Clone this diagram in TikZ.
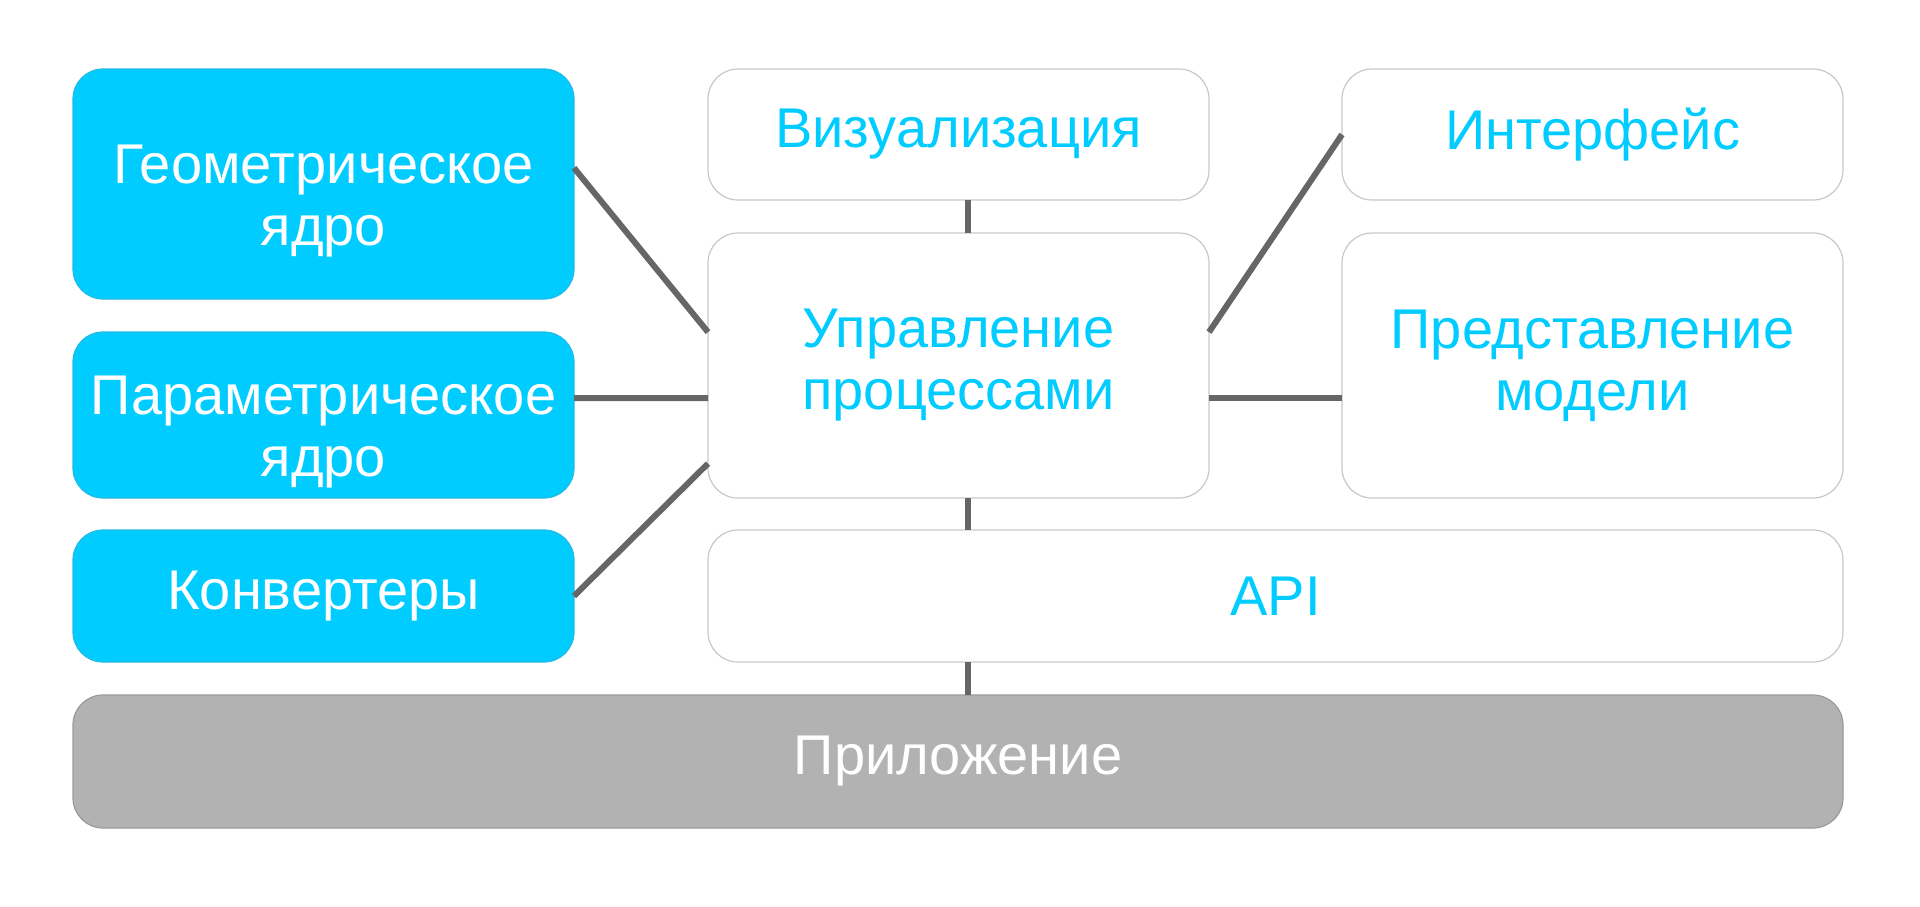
\documentclass[tikz,border=0pt]{standalone}
\usepackage{fontspec}
\setmainfont{Liberation Sans}
\usetikzlibrary{calc}
\definecolor{cyanb}{HTML}{00CCFF}
\definecolor{cyanedge}{HTML}{22BBE6}
\definecolor{wedge}{HTML}{C8C8C8}
\definecolor{appfill}{HTML}{B2B2B2}
\definecolor{appedge}{HTML}{9A9A9A}
\definecolor{conn}{HTML}{666666}
\tikzset{
  box/.style={rounded corners=30pt, inner sep=0pt, outer sep=0pt, align=center,
    font=\fontsize{56}{62}\selectfont, line width=1.2pt},
  bluebox/.style={box, fill=cyanb, draw=cyanedge, text=white},
  whitebox/.style={box, fill=white, draw=wedge, text=cyanb},
  appbox/.style={box, fill=appfill, draw=appedge, text=white},
  bluetext/.style={inner sep=0pt, align=center, font=\fontsize{56}{62}\selectfont, text=white},
  conline/.style={line width=6pt, draw=conn}
}
\begin{document}
\begin{tikzpicture}[x=1pt,y=-1pt]
\useasboundingbox (0,0) rectangle (1920,906);
\node[bluebox, minimum width=501pt, minimum height=230pt] (geo) at (323.5,184) {};
\node[bluetext] (geotext) at ([yshift=-17pt]geo.center) {Геометрическое\\ядро};
\node[bluebox, minimum width=501pt, minimum height=166pt] (param) at (323.5,415) {};
\node[bluetext] (paramtext) at ([yshift=-17pt]param.center) {Параметрическое\\ядро};
\node[bluebox, minimum width=501pt, minimum height=132pt] (conv) at (323.5,596) {\raisebox{-2pt}{Конвертеры}};
\node[whitebox, minimum width=501pt, minimum height=131pt] (vis) at (958.5,134.5) {Визуализация};
\node[whitebox, minimum width=501pt, minimum height=265pt] (upr) at (958.5,365.5) {Управление\\процессами};
\node[whitebox, minimum width=501pt, minimum height=131pt] (int) at (1592.5,134.5) {Интерфейс};
\node[whitebox, minimum width=501pt, minimum height=265pt] (pred) at (1592.5,365.5) {Представление\\модели};
\node[whitebox, minimum width=1135pt, minimum height=132pt] (api) at (1275.5,596) {API};
\node[appbox, minimum width=1770pt, minimum height=133pt] (app) at (958,761.5) {Приложение};

\draw[conline] ($(geo.north east)!0.43!(geo.south east)$) -- ($(upr.north west)!0.374!(upr.south west)$);
\draw[conline] ($(param.north east)!0.398!(param.south east)$) -- ($(upr.north west)!0.623!(upr.south west)$);
\draw[conline] (conv.east) -- ($(upr.north west)!0.87!(upr.south west)$);
\draw[conline] (int.west) -- ($(upr.north east)!0.374!(upr.south east)$);
\draw[conline] ($(upr.north east)!0.623!(upr.south east)$) -- ($(pred.north west)!0.623!(pred.south west)$);
\draw[conline] ([xshift=9pt]vis.south) -- ([xshift=9pt]upr.north);
\draw[conline] ([xshift=9pt]upr.south) -- ([xshift=9pt]upr.south |- api.north);
\draw[conline] ([xshift=9pt]upr.south |- api.south) -- ([xshift=9pt]upr.south |- app.north);
\end{tikzpicture}
\end{document}
